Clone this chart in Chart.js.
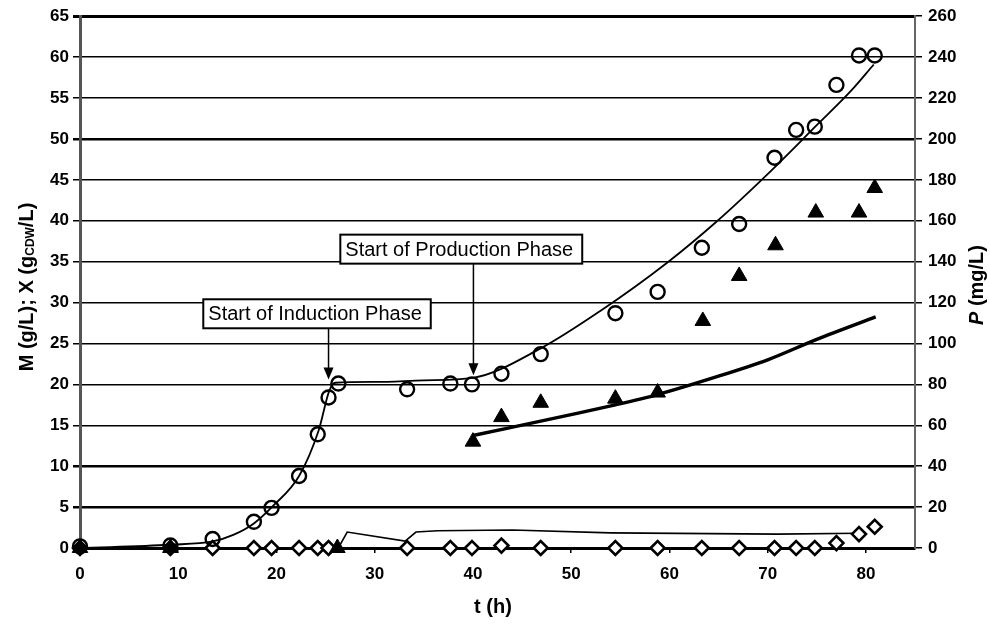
<!DOCTYPE html>
<html>
<head>
<meta charset="utf-8">
<script src="https://cdn.jsdelivr.net/npm/chart.js@4"></script>
<style>
html,body{margin:0;padding:0;background:#fff;}
#c{display:block;}
</style>
</head>
<body>
<canvas id="c" width="990" height="624"></canvas>
<script>
// ---- data ----
const tX = [0, 9.2, 13.5, 17.7, 19.5, 22.3, 24.2, 25.3, 26.3, 33.3, 37.7, 39.9, 42.9, 46.9, 54.5, 58.8, 63.3, 67.1, 70.7, 72.9, 74.8, 77.0, 79.3, 80.9];
const valX = [0.2, 0.3, 1.1, 3.2, 4.9, 8.8, 13.9, 18.4, 20.1, 19.4, 20.1, 20.0, 21.3, 23.7, 28.7, 31.3, 36.7, 39.6, 47.7, 51.1, 51.5, 56.6, 60.2, 60.2];

const tM = [0, 9.2, 13.5, 17.7, 19.5, 22.3, 24.2, 25.3, 33.3, 37.7, 39.9, 42.9, 46.9, 54.5, 58.8, 63.3, 67.1, 70.7, 72.9, 74.8, 77.0, 79.3, 80.9];
const valM = [0, 0, 0, 0, 0, 0, 0, 0, 0, 0, 0, 0.3, 0, 0, 0, 0, 0, 0, 0, 0, 0.6, 1.7, 2.6];

const tP = [0, 9.2, 26.2, 40.0, 42.9, 46.9, 54.5, 58.8, 63.4, 67.1, 70.8, 74.9, 79.3, 80.9];
const valP = [0, 0, 0, 52, 64, 71, 73, 76, 111, 133, 148, 164, 164, 176];

const tXfit = [0, 9.2, 13.5, 15.6, 17.7, 19.7, 22.3, 24.3, 25.4, 26.0, 30, 35, 40, 46.9, 53, 59.8, 64.9, 70, 75.1, 78.5, 80.8];
const valXfit = [0, 0.4, 0.8, 1.6, 3.0, 5.2, 8.8, 14.4, 19.3, 20.2, 20.3, 20.5, 20.8, 24.4, 29.0, 34.9, 40.0, 45.7, 51.8, 55.9, 59.1];

const tPfit = [40, 46.9, 54.5, 58.8, 65, 70, 75, 81];
const valPfit = [55, 62, 70, 75, 84, 92, 102, 113];

const tMfit = [0, 26.3, 27.2, 33.1, 34.2, 36.4, 44, 54, 71, 79.3];
const valMfit = [0, 0, 1.95, 0.85, 1.95, 2.1, 2.2, 1.85, 1.7, 1.8];

const xTicks = [0, 10, 20, 30, 40, 50, 60, 70, 80];
const leftTitle = ['M (g/L); X (g', 'CDW', '/L)'];
const rightTitle = ['P', ' (mg/L)'];
const xTitle = 't (h)';
const notes = [
  {text: 'Start of Induction Phase', boxT: 12.55, boxY: 30.4, arrowT: 25.3, tipY: 20.6},
  {text: 'Start of Production Phase', boxT: 26.5, boxY: 38.3, arrowT: 40.05, tipY: 21.1}
];

const zip = (a, b) => a.map((v, i) => ({x: v, y: b[i]}));
const FONT = 'Arial, "Liberation Sans"';

const extras = {
  id: 'extras',
  afterDatasetsDraw(chart) {
    const {ctx, scales: {x, y}} = chart;
    ctx.save();
    ctx.font = '20px ' + FONT;
    notes.forEach(n => {
      const bx = x.getPixelForValue(n.boxT);
      const by = y.getPixelForValue(n.boxY);
      const w = ctx.measureText(n.text).width + 14;
      const h = 29;
      ctx.fillStyle = '#fff';
      ctx.fillRect(bx, by, w, h);
      ctx.lineWidth = 2;
      ctx.strokeStyle = '#000';
      ctx.strokeRect(bx, by, w, h);
      ctx.fillStyle = '#000';
      ctx.textBaseline = 'middle';
      ctx.textAlign = 'left';
      ctx.fillText(n.text, bx + 5, by + h / 2 + 1);
      const ax = x.getPixelForValue(n.arrowT);
      const ty = y.getPixelForValue(n.tipY);
      ctx.beginPath();
      ctx.moveTo(ax, by + h);
      ctx.lineTo(ax, ty - 10);
      ctx.lineWidth = 1.5;
      ctx.stroke();
      ctx.beginPath();
      ctx.moveTo(ax - 5, ty - 12);
      ctx.lineTo(ax + 5, ty - 12);
      ctx.lineTo(ax, ty);
      ctx.closePath();
      ctx.fill();
    });
    ctx.restore();
  },
  afterDraw(chart) {
    const {ctx} = chart;
    ctx.save();
    ctx.fillStyle = '#000';
    ctx.textBaseline = 'middle';
    ctx.textAlign = 'left';
    const big = 'bold 20px ' + FONT, small = 'bold 12px ' + FONT;
    const lparts = [[leftTitle[0], big, 0], [leftTitle[1], small, 4], [leftTitle[2], big, 0]];
    let total = 0;
    lparts.forEach(p => { ctx.font = p[1]; total += ctx.measureText(p[0]).width; });
    ctx.translate(27, 287);
    ctx.rotate(-Math.PI / 2);
    let cx = -total / 2;
    lparts.forEach(p => { ctx.font = p[1]; ctx.fillText(p[0], cx, p[2]); cx += ctx.measureText(p[0]).width; });
    ctx.restore();
    ctx.save();
    ctx.fillStyle = '#000';
    ctx.textBaseline = 'middle';
    const rparts = [[rightTitle[0], 'italic bold 20px ' + FONT], [rightTitle[1], 'bold 20px ' + FONT]];
    total = 0;
    rparts.forEach(p => { ctx.font = p[1]; total += ctx.measureText(p[0]).width; });
    ctx.translate(977, 285);
    ctx.rotate(-Math.PI / 2);
    cx = -total / 2;
    rparts.forEach(p => { ctx.font = p[1]; ctx.fillText(p[0], cx, 0); cx += ctx.measureText(p[0]).width; });
    ctx.restore();
    ctx.save();
    ctx.fillStyle = '#000';
    ctx.font = 'bold 20px ' + FONT;
    ctx.textAlign = 'center';
    ctx.textBaseline = 'middle';
    ctx.fillText(xTitle, 493, 607);
    ctx.restore();
  }
};

const gridWidth = ctx => {
  const v = ctx.tick && ctx.tick.value;
  if (v === 0 || v === 65) return 3;
  if (v === 50 || v === 10 || v === 5) return 2.5;
  return 1.5;
};

new Chart(document.getElementById('c'), {
  type: 'scatter',
  data: {
    datasets: [
      {label: 'X fit', data: zip(tXfit, valXfit), showLine: true, borderColor: '#000', borderWidth: 1.8, pointRadius: 0, cubicInterpolationMode: 'monotone', yAxisID: 'y', order: 5, clip: false},
      {label: 'P fit', data: zip(tPfit, valPfit), showLine: true, borderColor: '#000', borderWidth: 3.4, pointRadius: 0, tension: 0.3, yAxisID: 'y2', order: 5, clip: false},
      {label: 'M fit', data: zip(tMfit, valMfit), showLine: true, borderColor: '#000', borderWidth: 1.6, pointRadius: 0, tension: 0, yAxisID: 'y', order: 5, clip: false},
      {label: 'M', data: zip(tM, valM), pointStyle: 'rectRot', pointRadius: 7, borderWidth: 2.6, borderColor: '#000', backgroundColor: '#fff', yAxisID: 'y', order: 3, clip: false},
      {label: 'P', data: zip(tP, valP), pointStyle: 'triangle', pointRadius: 9, borderWidth: 1, borderColor: '#000', backgroundColor: '#000', yAxisID: 'y2', order: 2, clip: false},
      {label: 'X', data: zip(tX, valX), pointStyle: 'circle', pointRadius: 7, borderWidth: 2.4, borderColor: '#000', backgroundColor: 'rgba(255,255,255,0)', yAxisID: 'y', order: 1, clip: false}
    ]
  },
  options: {
    responsive: false,
    animation: false,
    devicePixelRatio: 1,
    layout: {padding: {top: 15, left: 0, right: 0, bottom: 0}},
    plugins: {legend: {display: false}, tooltip: {enabled: false}},
    scales: {
      x: {
        type: 'linear', min: 0, max: 85,
        afterFit: s => { s.height = 76; },
        afterBuildTicks: s => { s.ticks = xTicks.map(v => ({value: v})); },
        ticks: {stepSize: 10, color: '#000', font: {family: FONT, size: 17, weight: 'bold'}, padding: 11, maxRotation: 0},
        grid: {drawOnChartArea: false, color: '#000', tickLength: 5, lineWidth: 1.5},
        border: {color: '#000', width: 3}
      },
      y: {
        type: 'linear', position: 'left', min: 0, max: 65,
        afterFit: s => { s.width = 80; },
        ticks: {stepSize: 5, color: '#000', font: {family: FONT, size: 17, weight: 'bold'}, padding: 4},
        grid: {color: '#000', lineWidth: gridWidth, tickLength: 7},
        border: {color: '#555', width: 3}
      },
      y2: {
        type: 'linear', position: 'right', min: 0, max: 260,
        afterFit: s => { s.width = 75; },
        ticks: {stepSize: 20, color: '#000', font: {family: FONT, size: 17, weight: 'bold'}, padding: 6},
        grid: {drawOnChartArea: false, color: '#000', tickLength: 7, lineWidth: 1.5},
        border: {color: '#666', width: 2}
      }
    }
  },
  plugins: [extras]
});
</script>
</body>
</html>
